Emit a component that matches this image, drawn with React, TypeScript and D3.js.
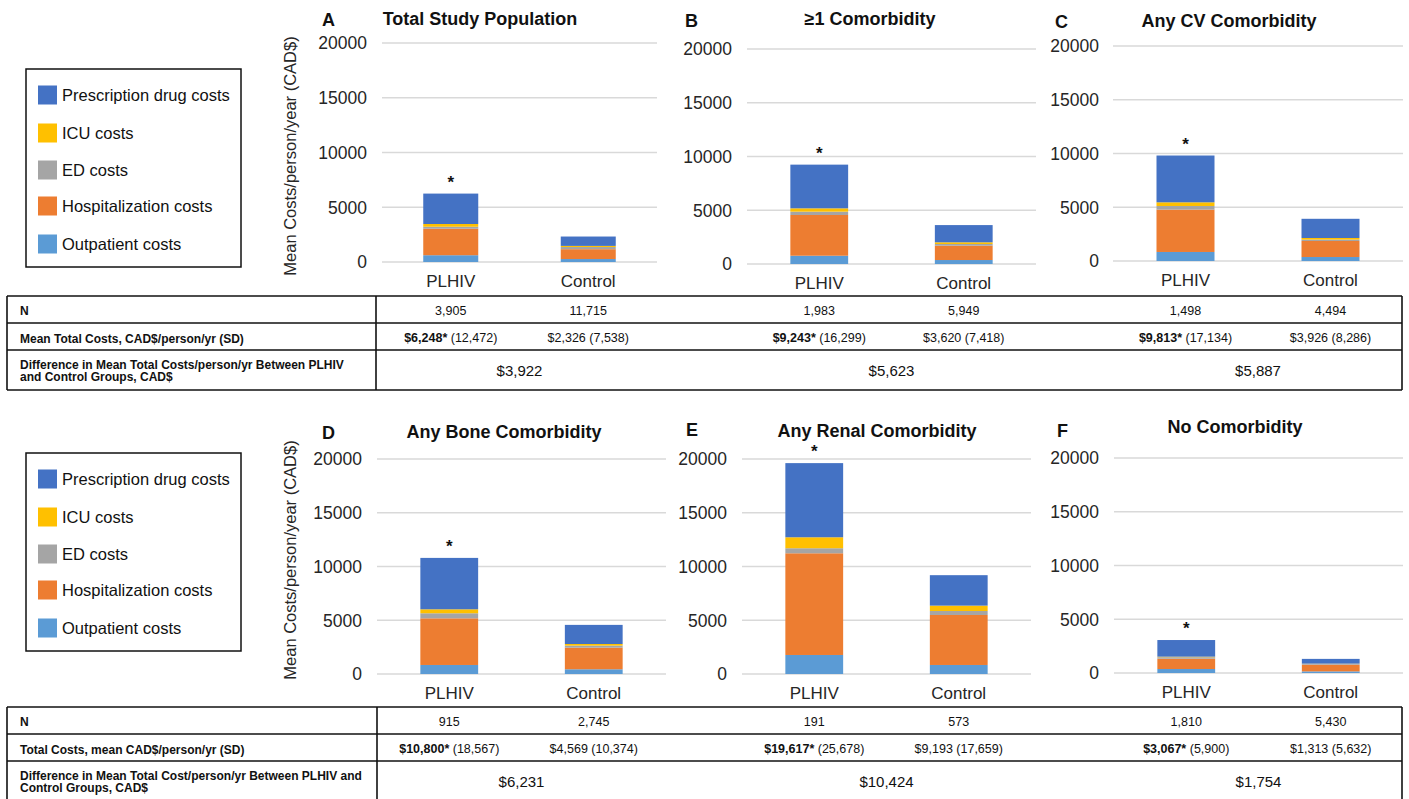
import React from "react";
import * as d3 from "d3";

// categories and series
const categories = ["PLHIV", "Control"];
const seriesKeys = ["outpatient", "hospitalization", "ed", "icu", "prescription"];
const seriesNames = ["Outpatient costs", "Hospitalization costs", "ED costs", "ICU costs", "Prescription drug costs"];
const seriesColors = ["#5B9BD5", "#ED7D31", "#A5A5A5", "#FFC000", "#4472C4"];
const yTicks = [0, 5000, 10000, 15000, 20000];

const panelLetters = ["A", "B", "C", "D", "E", "F"];
const panelTitles = [
  "Total Study Population",
  "≥1 Comorbidity",
  "Any CV Comorbidity",
  "Any Bone Comorbidity",
  "Any Renal Comorbidity",
  "No Comorbidity",
];

// mean cost per person/yr, [PLHIV, Control] for each panel
const outpatient = [[620, 270], [770, 370], [840, 370], [840, 440], [1770, 840], [370, 150]];
const hospitalization = [[2420, 900], [3790, 1330], [3940, 1490], [4340, 2010], [9460, 4650], [960, 620]];
const ed = [[180, 200], [310, 160], [335, 130], [470, 190], [470, 370], [140, 80]];
const icu = [[250, 100], [310, 160], [345, 150], [370, 150], [1020, 500], [50, 20]];
const prescription = [[2778, 856], [4063, 1600], [4353, 1786], [4780, 1779], [6897, 2833], [1547, 443]];
const significant = [true, true, true, true, true, true];

// table values
const nPLHIV = [3905, 1983, 1498, 915, 191, 1810];
const nControl = [11715, 5949, 4494, 2745, 573, 5430];
const meanPLHIV = [6248, 9243, 9813, 10800, 19617, 3067];
const sdPLHIV = [12472, 16299, 17134, 18567, 25678, 5900];
const meanControl = [2326, 3620, 3926, 4569, 9193, 1313];
const sdControl = [7538, 7418, 8286, 10374, 17659, 5632];
const meanDiff = [3922, 5623, 5887, 6231, 10424, 1754];

const rowLabelsTop = ["N", "Mean Total Costs, CAD$/person/yr (SD)", "Difference in Mean Total Costs/person/yr Between PLHIV", "and Control Groups, CAD$"];
const rowLabelsBottom = ["N", "Total Costs, mean CAD$/person/yr (SD)", "Difference in Mean Total Cost/person/yr Between PLHIV and", "Control Groups, CAD$"];

const FONT = "'Liberation Sans', Arial, Helvetica, sans-serif";
const fmt = d3.format(",");

// plot areas of the six panels
const layout = [
  { x0: 382, x1: 657, y0: 262, yTop: 43, tickX: 367, letterX: 322, letterY: 26, titleX: 480, titleY: 25 },
  { x0: 747, x1: 1036, y0: 264, yTop: 49, tickX: 732, letterX: 685, letterY: 27, titleX: 870, titleY: 25 },
  { x0: 1113, x1: 1403, y0: 261, yTop: 46, tickX: 1099, letterX: 1055, letterY: 28, titleX: 1229, titleY: 27 },
  { x0: 377, x1: 666, y0: 674, yTop: 459, tickX: 362, letterX: 322, letterY: 439, titleX: 504, titleY: 438 },
  { x0: 742, x1: 1031, y0: 674, yTop: 459, tickX: 727, letterX: 686, letterY: 436, titleX: 877, titleY: 437 },
  { x0: 1114, x1: 1403, y0: 673, yTop: 458, tickX: 1099, letterX: 1057, letterY: 437, titleX: 1235, titleY: 433 },
];

function Panel({ i }: { i: number }) {
  const L = layout[i];
  const y = d3.scaleLinear().domain([0, 20000]).range([L.y0, L.yTop]);
  const x = d3.scaleBand().domain(categories).range([L.x0, L.x1]).paddingInner(0.6).paddingOuter(0.3);

  const rows = categories.map((c, j) => ({
    cat: c,
    outpatient: outpatient[i][j],
    hospitalization: hospitalization[i][j],
    ed: ed[i][j],
    icu: icu[i][j],
    prescription: prescription[i][j],
  }));
  const stacked = d3.stack<any>().keys(seriesKeys)(rows);
  const top = stacked[stacked.length - 1];

  return (
    <g>
      {yTicks.map((t) => (
        <g key={t}>
          <line x1={L.x0} x2={L.x1} y1={y(t)} y2={y(t)} stroke="#D9D9D9" strokeWidth={1.3} />
          <text x={L.tickX} y={y(t)} dy="0.36em" textAnchor="end" fontSize={17.5} fill="#262626">{t}</text>
        </g>
      ))}
      {stacked.map((s, k) => (
        <g key={s.key} fill={seriesColors[k]}>
          {s.map((d: any) => (
            <rect key={d.data.cat} x={x(d.data.cat)} width={x.bandwidth()} y={y(d[1])} height={y(d[0]) - y(d[1])} />
          ))}
        </g>
      ))}
      {significant[i] && (
        <text x={(x("PLHIV") as number) + x.bandwidth() / 2} y={y(top[0][1]) - 6} textAnchor="middle" fontSize={17} fontWeight="bold" fill="#111">*</text>
      )}
      {categories.map((c) => (
        <text key={c} x={(x(c) as number) + x.bandwidth() / 2} y={L.y0 + 25} textAnchor="middle" fontSize={17} fill="#262626">{c}</text>
      ))}
      <text x={L.letterX} y={L.letterY} fontSize={18} fontWeight="bold" fill="#111">{panelLetters[i]}</text>
      <text x={L.titleX} y={L.titleY} textAnchor="middle" fontSize={18} fontWeight="bold" fill="#111">{panelTitles[i]}</text>
    </g>
  );
}

function Legend({ top }: { top: number }) {
  const order = [4, 3, 2, 1, 0];
  const rowY = [26, 64, 101, 137, 175];
  return (
    <g>
      <rect x={26} y={top} width={215} height={198} fill="none" stroke="#111" strokeWidth={1.5} />
      {order.map((k, r) => (
        <g key={k}>
          <rect x={38} y={top + rowY[r] - 9.5} width={19} height={19} fill={seriesColors[k]} />
          <text x={62} y={top + rowY[r]} dy="0.36em" fontSize={16.5} fill="#111">{seriesNames[k]}</text>
        </g>
      ))}
    </g>
  );
}

function Table({ panels, top, vx, labels, bottom }: { panels: number[]; top: number; vx: number; labels: string[]; bottom: number }) {
  const lines = [top, top + 27, top + 54, bottom];
  return (
    <g>
      {lines.map((ly, k) => (
        <line key={k} x1={7} x2={1402} y1={ly} y2={ly} stroke="#111" strokeWidth={1.6} />
      ))}
      <line x1={7} x2={7} y1={top} y2={bottom} stroke="#111" strokeWidth={1.6} />
      <line x1={1402} x2={1402} y1={top} y2={bottom} stroke="#111" strokeWidth={1.6} />
      <line x1={vx} x2={vx} y1={top} y2={bottom} stroke="#111" strokeWidth={1.6} />
      <text x={20} y={top + 19} fontSize={12} fontWeight="bold" fill="#111">{labels[0]}</text>
      <text x={20} y={top + 47} fontSize={12} fontWeight="bold" fill="#111">{labels[1]}</text>
      <text x={20} y={top + 73} fontSize={12} fontWeight="bold" fill="#111">{labels[2]}</text>
      <text x={20} y={top + 85} fontSize={12} fontWeight="bold" fill="#111">{labels[3]}</text>
      {panels.map((i) => {
        const L = layout[i];
        const x = d3.scaleBand().domain(categories).range([L.x0, L.x1]).paddingInner(0.6).paddingOuter(0.3);
        const cP = (x("PLHIV") as number) + x.bandwidth() / 2;
        const cC = (x("Control") as number) + x.bandwidth() / 2;
        return (
          <g key={i} fontSize={12.5} fill="#111" textAnchor="middle">
            <text x={cP} y={top + 19}>{fmt(nPLHIV[i])}</text>
            <text x={cC} y={top + 19}>{fmt(nControl[i])}</text>
            <text x={cP} y={top + 46}>
              <tspan fontWeight="bold">{"$" + fmt(meanPLHIV[i]) + "*"}</tspan>
              <tspan>{" (" + fmt(sdPLHIV[i]) + ")"}</tspan>
            </text>
            <text x={cC} y={top + 46}>{"$" + fmt(meanControl[i]) + " (" + fmt(sdControl[i]) + ")"}</text>
            <text x={(cP + cC) / 2} y={top + 80} fontSize={15}>{"$" + fmt(meanDiff[i])}</text>
          </g>
        );
      })}
    </g>
  );
}

export default function App() {
  return (
    <div style={{ position: "absolute", left: 0, top: 0 }}>
      <svg width={1409} height={799} fontFamily={FONT} style={{ display: "block", background: "#fff" }}>
        <Legend top={69} />
        <Legend top={453} />
        <text transform="translate(296,156) rotate(-90)" textAnchor="middle" fontSize={16.5} fill="#262626">Mean Costs/person/year (CAD$)</text>
        <text transform="translate(296,560) rotate(-90)" textAnchor="middle" fontSize={16.5} fill="#262626">Mean Costs/person/year (CAD$)</text>
        {layout.map((_, i) => (
          <Panel key={i} i={i} />
        ))}
        <Table panels={[0, 1, 2]} top={296} vx={376} labels={rowLabelsTop} bottom={390} />
        <Table panels={[3, 4, 5]} top={707} vx={377} labels={rowLabelsBottom} bottom={802} />
      </svg>
    </div>
  );
}
